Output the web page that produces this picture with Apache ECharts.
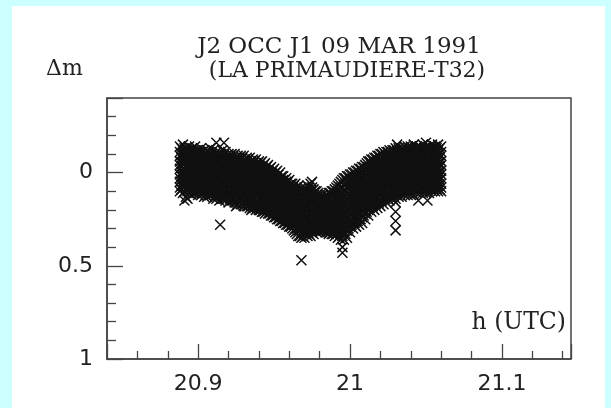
<!DOCTYPE html>
<html>
<head>
<meta charset="utf-8">
<script src="https://cdn.jsdelivr.net/npm/echarts@6/dist/echarts.min.js"></script>
<style>
html,body{margin:0;padding:0;background:#ccffff;}
#c{width:611px;height:408px;}
</style>
</head>
<body>
<div id="c"></div>
<script>
// time (h UTC) of each column of measurements (even thousandths)
const hours = [20.888,20.890,20.892,20.894,20.896,20.898,20.900,20.902,20.904,20.906,20.908,20.910,20.912,20.914,20.916,20.918,20.920,20.922,20.924,20.926,20.928,20.930,20.932,20.934,20.936,20.938,20.940,20.942,20.944,20.946,20.948,20.950,20.952,20.954,20.956,20.958,20.960,20.962,20.964,20.966,20.968,20.970,20.972,20.974,20.976,20.978,20.980,20.982,20.984,20.986,20.988,20.990,20.992,20.994,20.996,20.998,21.000,21.002,21.004,21.006,21.008,21.010,21.012,21.014,21.016,21.018,21.020,21.022,21.024,21.026,21.028,21.030,21.032,21.034,21.036,21.038,21.040,21.042,21.044,21.046,21.048,21.050,21.052,21.054,21.056,21.058,21.060];
const dm = [
[-0.14,-0.11,-0.09,-0.06,-0.04,-0.02,0.01,0.03,0.05,0.08,0.10],
[-0.15,-0.12,-0.10,-0.07,-0.05,-0.02,0.00,0.02,0.05,0.07,0.11],
[-0.13,-0.11,-0.08,-0.06,-0.03,-0.01,0.02,0.04,0.06,0.09,0.13],
[-0.14,-0.12,-0.09,-0.07,-0.04,-0.02,0.01,0.03,0.06,0.08,0.11],
[-0.13,-0.10,-0.08,-0.05,-0.03,0.00,0.02,0.04,0.07,0.09,0.12],
[-0.14,-0.11,-0.09,-0.06,-0.04,-0.01,0.01,0.04,0.06,0.08,0.11],
[-0.12,-0.10,-0.07,-0.05,-0.02,0.00,0.03,0.05,0.07,0.10,0.12],
[-0.13,-0.11,-0.08,-0.06,-0.03,-0.01,0.02,0.04,0.07,0.09,0.12],
[-0.12,-0.09,-0.07,-0.04,-0.02,0.01,0.03,0.06,0.08,0.10,0.13],
[-0.12,-0.10,-0.07,-0.05,-0.02,0.00,0.03,0.05,0.08,0.10,0.13],
[-0.13,-0.10,-0.08,-0.05,-0.03,0.00,0.02,0.05,0.07,0.10,0.12],
[-0.12,-0.09,-0.06,-0.04,-0.01,0.01,0.04,0.06,0.09,0.11,0.14],
[-0.11,-0.09,-0.06,-0.04,-0.01,0.02,0.04,0.07,0.09,0.12,0.14],
[-0.11,-0.08,-0.06,-0.03,-0.01,0.02,0.05,0.07,0.10,0.12,0.15],
[-0.12,-0.09,-0.07,-0.04,-0.01,0.01,0.04,0.06,0.09,0.11,0.14],
[-0.11,-0.08,-0.05,-0.03,0.00,0.03,0.05,0.08,0.10,0.13,0.15],
[-0.10,-0.08,-0.05,-0.02,0.00,0.03,0.06,0.08,0.11,0.13,0.16],
[-0.10,-0.07,-0.04,-0.02,0.01,0.04,0.06,0.09,0.11,0.14,0.15],
[-0.10,-0.07,-0.05,-0.02,0.01,0.03,0.06,0.09,0.11,0.14,0.16],
[-0.09,-0.06,-0.04,-0.01,0.02,0.04,0.07,0.10,0.12,0.15,0.17],
[-0.09,-0.07,-0.04,-0.01,0.02,0.05,0.07,0.10,0.13,0.15,0.17],
[-0.09,-0.06,-0.03,0.00,0.02,0.05,0.08,0.11,0.13,0.16,0.18],
[-0.08,-0.05,-0.03,0.00,0.03,0.06,0.09,0.11,0.14,0.16,0.18],
[-0.08,-0.05,-0.02,0.01,0.04,0.06,0.09,0.12,0.14,0.17,0.19],
[-0.07,-0.04,-0.01,0.02,0.04,0.07,0.10,0.13,0.15,0.17,0.19],
[-0.07,-0.04,-0.01,0.01,0.04,0.07,0.10,0.13,0.16,0.18,0.20],
[-0.06,-0.03,0.00,0.03,0.06,0.08,0.11,0.14,0.16,0.18,0.20],
[-0.06,-0.03,0.00,0.03,0.06,0.09,0.12,0.15,0.17,0.19,0.21],
[-0.05,-0.02,0.01,0.04,0.07,0.10,0.13,0.15,0.18,0.20,0.22],
[-0.04,-0.01,0.02,0.05,0.08,0.11,0.13,0.16,0.18,0.20,0.22],
[-0.03,0.00,0.03,0.06,0.09,0.11,0.14,0.17,0.19,0.21,0.23],
[-0.02,0.01,0.04,0.07,0.10,0.12,0.15,0.18,0.20,0.22,0.24],
[-0.01,0.02,0.05,0.08,0.10,0.13,0.16,0.18,0.21,0.23,0.25],
[0.00,0.03,0.06,0.09,0.11,0.14,0.17,0.19,0.22,0.24,0.26],
[0.02,0.04,0.07,0.10,0.12,0.15,0.17,0.20,0.23,0.25,0.27],
[0.03,0.05,0.08,0.11,0.13,0.16,0.18,0.21,0.24,0.26,0.28],
[0.04,0.07,0.09,0.12,0.14,0.17,0.19,0.22,0.25,0.27,0.29],
[0.06,0.08,0.10,0.13,0.15,0.18,0.20,0.23,0.25,0.28,0.30],
[0.06,0.09,0.11,0.14,0.17,0.19,0.22,0.25,0.27,0.30,0.32],
[0.07,0.10,0.12,0.15,0.18,0.21,0.23,0.26,0.29,0.31,0.34],
[0.08,0.11,0.13,0.16,0.19,0.22,0.24,0.27,0.30,0.32,0.35],
[0.08,0.11,0.14,0.17,0.19,0.22,0.25,0.28,0.30,0.33,0.35],
[0.07,0.10,0.13,0.16,0.18,0.21,0.24,0.27,0.29,0.32,0.34],
[0.06,0.10,0.12,0.15,0.18,0.21,0.23,0.26,0.29,0.31,0.34],
[0.09,0.11,0.14,0.16,0.19,0.21,0.24,0.26,0.29,0.31,0.33],
[0.10,0.12,0.14,0.17,0.19,0.22,0.24,0.26,0.28,0.30,0.32],
[0.12,0.14,0.16,0.18,0.20,0.22,0.24,0.26,0.28,0.30,0.32],
[0.12,0.14,0.16,0.18,0.20,0.22,0.24,0.26,0.27,0.29,0.31],
[0.12,0.14,0.16,0.18,0.20,0.22,0.24,0.26,0.28,0.30,0.32],
[0.11,0.13,0.15,0.18,0.20,0.22,0.24,0.27,0.29,0.31,0.33],
[0.10,0.12,0.15,0.17,0.19,0.22,0.24,0.26,0.29,0.31,0.33],
[0.09,0.11,0.14,0.16,0.19,0.21,0.24,0.26,0.29,0.31,0.34],
[0.07,0.10,0.13,0.15,0.18,0.21,0.23,0.26,0.29,0.32,0.35],
[0.05,0.08,0.11,0.14,0.17,0.20,0.23,0.26,0.29,0.32,0.36],
[0.03,0.07,0.10,0.13,0.16,0.19,0.22,0.26,0.29,0.32,0.36],
[0.02,0.05,0.08,0.12,0.15,0.18,0.21,0.25,0.28,0.31,0.35],
[0.01,0.04,0.07,0.10,0.13,0.16,0.19,0.23,0.26,0.29,0.32],
[0.00,0.03,0.06,0.09,0.12,0.15,0.18,0.21,0.24,0.27,0.30],
[-0.01,0.02,0.05,0.08,0.11,0.14,0.17,0.20,0.23,0.26,0.29],
[-0.02,0.01,0.04,0.07,0.10,0.13,0.16,0.19,0.22,0.25,0.28],
[-0.03,0.00,0.03,0.06,0.09,0.12,0.15,0.18,0.21,0.24,0.27],
[-0.04,-0.01,0.02,0.05,0.08,0.11,0.13,0.16,0.19,0.22,0.25],
[-0.06,-0.03,0.00,0.03,0.06,0.09,0.12,0.14,0.17,0.20,0.23],
[-0.07,-0.04,-0.01,0.02,0.05,0.07,0.10,0.13,0.16,0.18,0.21],
[-0.08,-0.05,-0.02,0.01,0.03,0.06,0.09,0.12,0.14,0.17,0.20],
[-0.09,-0.06,-0.03,0.00,0.02,0.05,0.08,0.11,0.13,0.16,0.19],
[-0.10,-0.07,-0.04,-0.01,0.01,0.04,0.07,0.10,0.12,0.15,0.18],
[-0.11,-0.08,-0.05,-0.02,0.00,0.03,0.06,0.09,0.11,0.14,0.17],
[-0.11,-0.08,-0.05,-0.03,0.00,0.03,0.05,0.08,0.11,0.13,0.16],
[-0.12,-0.09,-0.06,-0.04,-0.01,0.02,0.04,0.07,0.10,0.12,0.15],
[-0.12,-0.09,-0.07,-0.04,-0.02,0.01,0.04,0.06,0.09,0.11,0.14],
[-0.13,-0.10,-0.07,-0.05,-0.02,0.01,0.03,0.06,0.08,0.11,0.14],
[-0.13,-0.10,-0.08,-0.05,-0.03,0.00,0.02,0.05,0.08,0.10,0.13],
[-0.13,-0.11,-0.08,-0.05,-0.03,0.00,0.02,0.05,0.07,0.10,0.13],
[-0.14,-0.11,-0.09,-0.06,-0.04,-0.01,0.02,0.04,0.07,0.09,0.12],
[-0.14,-0.11,-0.09,-0.06,-0.03,-0.01,0.02,0.04,0.07,0.09,0.12],
[-0.14,-0.12,-0.09,-0.07,-0.04,-0.01,0.01,0.04,0.06,0.09,0.12],
[-0.15,-0.12,-0.09,-0.06,-0.04,-0.01,0.01,0.04,0.07,0.09,0.12],
[-0.14,-0.11,-0.09,-0.06,-0.04,-0.01,0.01,0.04,0.06,0.09,0.11],
[-0.14,-0.12,-0.09,-0.07,-0.04,-0.02,0.01,0.03,0.06,0.08,0.11],
[-0.15,-0.12,-0.10,-0.07,-0.04,-0.02,0.01,0.03,0.06,0.08,0.11],
[-0.14,-0.11,-0.09,-0.06,-0.04,-0.01,0.01,0.04,0.06,0.09,0.11],
[-0.14,-0.12,-0.09,-0.07,-0.04,-0.02,0.01,0.03,0.06,0.08,0.11],
[-0.15,-0.12,-0.10,-0.07,-0.05,-0.02,0.00,0.03,0.05,0.08,0.10],
[-0.14,-0.11,-0.09,-0.06,-0.04,-0.01,0.01,0.04,0.06,0.08,0.10],
[-0.15,-0.12,-0.10,-0.07,-0.05,-0.02,0.00,0.03,0.05,0.07,0.10],
[-0.14,-0.11,-0.09,-0.06,-0.04,-0.01,0.01,0.03,0.06,0.08,0.10]
];
// time (h UTC) of the interleaved columns (odd thousandths)
const hoursB = [20.889,20.891,20.893,20.895,20.897,20.899,20.901,20.903,20.905,20.907,20.909,20.911,20.913,20.915,20.917,20.919,20.921,20.923,20.925,20.927,20.929,20.931,20.933,20.935,20.937,20.939,20.941,20.943,20.945,20.947,20.949,20.951,20.953,20.955,20.957,20.959,20.961,20.963,20.965,20.967,20.969,20.971,20.973,20.975,20.977,20.979,20.981,20.983,20.985,20.987,20.989,20.991,20.993,20.995,20.997,20.999,21.001,21.003,21.005,21.007,21.009,21.011,21.013,21.015,21.017,21.019,21.021,21.023,21.025,21.027,21.029,21.031,21.033,21.035,21.037,21.039,21.041,21.043,21.045,21.047,21.049,21.051,21.053,21.055,21.057,21.059];
const dmB = [
[-0.13,-0.10,-0.08,-0.05,-0.03,0.00,0.02,0.04,0.07,0.09],
[-0.13,-0.10,-0.07,-0.05,-0.02,0.00,0.03,0.05,0.07,0.10],
[-0.12,-0.10,-0.07,-0.04,-0.02,0.01,0.03,0.05,0.08,0.10],
[-0.12,-0.09,-0.07,-0.04,-0.02,0.01,0.03,0.06,0.08,0.10],
[-0.12,-0.09,-0.06,-0.04,-0.01,0.01,0.04,0.06,0.09,0.11],
[-0.12,-0.09,-0.07,-0.04,-0.01,0.02,0.04,0.06,0.09,0.11],
[-0.11,-0.09,-0.06,-0.03,-0.01,0.02,0.04,0.07,0.09,0.11],
[-0.11,-0.08,-0.06,-0.03,0.00,0.02,0.05,0.07,0.09,0.11],
[-0.11,-0.08,-0.05,-0.03,0.00,0.02,0.05,0.07,0.10,0.12],
[-0.11,-0.08,-0.06,-0.03,-0.01,0.02,0.04,0.07,0.09,0.12],
[-0.10,-0.08,-0.05,-0.02,0.00,0.03,0.05,0.08,0.10,0.12],
[-0.10,-0.07,-0.05,-0.02,0.01,0.03,0.06,0.08,0.11,0.13],
[-0.10,-0.07,-0.04,-0.02,0.01,0.04,0.06,0.09,0.11,0.13],
[-0.10,-0.07,-0.05,-0.02,0.01,0.03,0.06,0.08,0.11,0.13],
[-0.09,-0.07,-0.04,-0.01,0.01,0.04,0.07,0.09,0.12,0.14],
[-0.09,-0.06,-0.04,-0.01,0.02,0.04,0.07,0.09,0.12,0.14],
[-0.09,-0.06,-0.03,-0.01,0.02,0.05,0.07,0.10,0.12,0.14],
[-0.08,-0.06,-0.03,0.00,0.02,0.05,0.08,0.10,0.13,0.15],
[-0.08,-0.05,-0.03,0.00,0.03,0.05,0.08,0.11,0.13,0.16],
[-0.08,-0.05,-0.02,0.01,0.03,0.06,0.09,0.11,0.14,0.16],
[-0.08,-0.05,-0.02,0.01,0.04,0.06,0.09,0.12,0.14,0.17],
[-0.07,-0.04,-0.01,0.01,0.04,0.07,0.10,0.12,0.15,0.17],
[-0.07,-0.04,-0.01,0.02,0.05,0.08,0.10,0.13,0.15,0.18],
[-0.06,-0.03,0.00,0.03,0.05,0.08,0.11,0.14,0.16,0.18],
[-0.06,-0.03,0.00,0.03,0.06,0.09,0.12,0.14,0.17,0.19],
[-0.05,-0.02,0.01,0.04,0.07,0.10,0.12,0.15,0.17,0.19],
[-0.05,-0.02,0.02,0.05,0.07,0.10,0.13,0.15,0.18,0.20],
[-0.04,-0.01,0.02,0.05,0.08,0.11,0.14,0.16,0.19,0.21],
[-0.03,0.00,0.03,0.06,0.09,0.12,0.14,0.17,0.19,0.21],
[-0.02,0.01,0.04,0.07,0.10,0.13,0.15,0.18,0.20,0.22],
[-0.01,0.02,0.05,0.08,0.11,0.14,0.16,0.19,0.21,0.23],
[0.00,0.03,0.06,0.09,0.11,0.14,0.17,0.19,0.22,0.24],
[0.01,0.04,0.07,0.10,0.12,0.15,0.18,0.20,0.23,0.25],
[0.02,0.05,0.08,0.11,0.13,0.16,0.18,0.21,0.24,0.26],
[0.04,0.06,0.09,0.12,0.14,0.17,0.19,0.22,0.25,0.27],
[0.05,0.08,0.10,0.13,0.15,0.18,0.20,0.23,0.26,0.28],
[0.06,0.09,0.11,0.14,0.16,0.19,0.21,0.24,0.26,0.29],
[0.07,0.10,0.12,0.15,0.17,0.20,0.23,0.26,0.28,0.31],
[0.08,0.11,0.13,0.16,0.19,0.22,0.24,0.27,0.30,0.33],
[0.09,0.12,0.15,0.17,0.20,0.23,0.26,0.28,0.31,0.34],
[0.09,0.12,0.15,0.18,0.21,0.23,0.26,0.29,0.32,0.34],
[0.09,0.12,0.14,0.17,0.20,0.23,0.25,0.28,0.31,0.33],
[0.08,0.11,0.14,0.17,0.19,0.22,0.25,0.27,0.30,0.33],
[0.08,0.12,0.15,0.17,0.20,0.22,0.25,0.27,0.30,0.32],
[0.10,0.13,0.15,0.18,0.20,0.23,0.25,0.27,0.29,0.31],
[0.11,0.13,0.15,0.17,0.19,0.21,0.23,0.25,0.27,0.29,0.31],
[0.13,0.15,0.17,0.19,0.21,0.23,0.25,0.27,0.29,0.31],
[0.13,0.15,0.17,0.19,0.21,0.23,0.25,0.27,0.29,0.31],
[0.12,0.14,0.17,0.19,0.21,0.23,0.25,0.28,0.30,0.32],
[0.11,0.14,0.16,0.18,0.21,0.23,0.25,0.28,0.30,0.32],
[0.10,0.13,0.15,0.18,0.20,0.23,0.25,0.28,0.30,0.33],
[0.08,0.11,0.14,0.17,0.19,0.22,0.25,0.27,0.30,0.33],
[0.06,0.09,0.12,0.15,0.18,0.21,0.24,0.27,0.31,0.34],
[0.04,0.08,0.11,0.14,0.17,0.20,0.24,0.27,0.30,0.34],
[0.03,0.06,0.10,0.13,0.16,0.20,0.23,0.26,0.30,0.33],
[0.02,0.05,0.08,0.11,0.14,0.17,0.20,0.24,0.27,0.30],
[0.01,0.04,0.07,0.10,0.13,0.16,0.19,0.22,0.25,0.28],
[0.00,0.03,0.06,0.09,0.12,0.15,0.18,0.21,0.24,0.27],
[-0.01,0.02,0.05,0.08,0.11,0.14,0.17,0.20,0.23,0.26],
[-0.02,0.01,0.04,0.07,0.10,0.13,0.16,0.19,0.22,0.25],
[-0.03,0.00,0.03,0.06,0.09,0.12,0.14,0.17,0.20,0.23],
[-0.05,-0.02,0.01,0.04,0.07,0.10,0.13,0.15,0.18,0.21],
[-0.06,-0.03,0.00,0.03,0.06,0.08,0.11,0.14,0.17,0.19],
[-0.07,-0.04,-0.01,0.02,0.04,0.07,0.10,0.13,0.15,0.18],
[-0.08,-0.05,-0.02,0.01,0.03,0.06,0.09,0.12,0.14,0.17],
[-0.09,-0.06,-0.03,0.00,0.02,0.05,0.08,0.11,0.13,0.16],
[-0.10,-0.07,-0.04,-0.01,0.01,0.04,0.07,0.10,0.12,0.15],
[-0.10,-0.07,-0.04,-0.02,0.01,0.04,0.06,0.09,0.12,0.14],
[-0.11,-0.08,-0.05,-0.03,0.00,0.03,0.05,0.08,0.11,0.13],
[-0.11,-0.08,-0.06,-0.03,-0.01,0.02,0.05,0.07,0.10,0.12],
[-0.12,-0.09,-0.06,-0.04,-0.01,0.02,0.04,0.07,0.09,0.12],
[-0.12,-0.09,-0.07,-0.04,-0.02,0.01,0.03,0.06,0.09,0.11],
[-0.12,-0.10,-0.07,-0.04,-0.02,0.01,0.03,0.06,0.08,0.11],
[-0.13,-0.10,-0.07,-0.05,-0.02,0.01,0.03,0.05,0.08,0.10],
[-0.13,-0.10,-0.08,-0.05,-0.02,0.00,0.03,0.05,0.08,0.10],
[-0.13,-0.11,-0.08,-0.05,-0.03,0.00,0.02,0.05,0.07,0.10],
[-0.13,-0.10,-0.08,-0.05,-0.03,0.00,0.03,0.05,0.08,0.10],
[-0.13,-0.10,-0.07,-0.05,-0.02,0.00,0.03,0.05,0.08,0.10],
[-0.13,-0.10,-0.08,-0.05,-0.03,0.00,0.02,0.05,0.07,0.09],
[-0.13,-0.11,-0.08,-0.06,-0.03,0.00,0.02,0.04,0.07,0.09],
[-0.13,-0.10,-0.08,-0.05,-0.03,0.00,0.02,0.05,0.07,0.10],
[-0.13,-0.10,-0.08,-0.05,-0.03,0.00,0.02,0.04,0.07,0.09],
[-0.13,-0.11,-0.08,-0.06,-0.03,-0.01,0.02,0.04,0.07,0.09],
[-0.13,-0.10,-0.08,-0.05,-0.03,0.00,0.02,0.05,0.07,0.09],
[-0.13,-0.11,-0.08,-0.06,-0.03,-0.01,0.02,0.04,0.06,0.09],
[-0.13,-0.10,-0.08,-0.05,-0.03,0.00,0.02,0.04,0.07,0.09]
];
// isolated points outside the main band
const outlierHours = [20.891,20.893,20.9145,20.912,20.917,20.925,20.935,20.968,20.975,20.995,20.995,21.030,21.030,21.030,21.030,21.045,21.051,21.031,21.050];
const outlierDm    = [0.15,0.14,0.28,-0.16,-0.16,0.18,0.20,0.47,0.05,0.40,0.43,0.16,0.21,0.26,0.31,0.15,0.15,-0.15,-0.16];
const xTickLabels = ['20.9','21','21.1'];
const yTickLabels = ['0','0.5','1'];

const points = [];
hours.forEach((h, i) => (dm[i] || []).forEach(v => points.push([h, v])));
hoursB.forEach((h, i) => (dmB[i] || []).forEach(v => points.push([h, v])));
outlierHours.forEach((h, i) => points.push([h, outlierDm[i]]));

const ink = '#222';
const labelFont = 'DejaVu Sans';

function pick(list, v) {
  for (const s of list) { if (Math.abs(parseFloat(s) - v) < 1e-6) return s; }
  return '';
}

const chart = echarts.init(document.getElementById('c'), null, {renderer: 'canvas'});
chart.setOption({
  animation: false,
  backgroundColor: '#ccffff',
  graphic: [
    {type: 'rect', z: -10, shape: {x: 12, y: 6, width: 593, height: 402}, style: {fill: '#ffffff'}, silent: true},
    {type: 'text', x: 339, y: 47, style: {text: 'J2 OCC J1 09 MAR 1991', font: '23px "DejaVu Serif"', fill: ink, align: 'center', verticalAlign: 'middle'}},
    {type: 'text', x: 347, y: 71, style: {text: '(LA PRIMAUDIERE-T32)', font: '22px "DejaVu Serif"', fill: ink, align: 'center', verticalAlign: 'middle'}},
    {type: 'text', x: 46, y: 69, style: {text: 'Δm', font: '22px "DejaVu Serif"', fill: ink, align: 'left', verticalAlign: 'middle'}},
    {type: 'text', x: 566, y: 323, style: {text: 'h (UTC)', font: '23.5px "DejaVu Serif"', fill: ink, align: 'right', verticalAlign: 'middle'}}
  ],
  grid: {left: 107, top: 98, right: 40, bottom: 49, show: true, borderColor: '#444', borderWidth: 1.5, backgroundColor: 'transparent'},
  xAxis: {
    type: 'value', min: 20.84, max: 21.1455, minInterval: 0.1, maxInterval: 0.1,
    axisLine: {show: true, onZero: false, lineStyle: {color: '#444', width: 1.5}},
    axisTick: {show: true, inside: true, length: 15, lineStyle: {color: '#444', width: 1.3}},
    minorTick: {show: true, splitNumber: 5, length: 8, lineStyle: {color: '#444', width: 1.3}},
    splitLine: {show: false}, minorSplitLine: {show: false},
    axisLabel: {margin: 14, showMinLabel: false, showMaxLabel: false, fontFamily: labelFont, fontSize: 22, color: ink,
      formatter: v => pick(xTickLabels, v)}
  },
  yAxis: {
    type: 'value', inverse: true, min: -0.4, max: 1, minInterval: 0.5, maxInterval: 0.5,
    axisLine: {show: true, onZero: false, lineStyle: {color: '#444', width: 1.5}},
    axisTick: {show: true, inside: true, length: 16, lineStyle: {color: '#444', width: 1.3}},
    minorTick: {show: true, splitNumber: 5, length: 9, lineStyle: {color: '#444', width: 1.3}},
    splitLine: {show: false}, minorSplitLine: {show: false},
    axisLabel: {margin: 14, showMinLabel: false, fontFamily: labelFont, fontSize: 22, color: ink,
      formatter: v => pick(yTickLabels, v)}
  },
  series: [{
    type: 'scatter', data: points, silent: true,
    symbol: 'path://M0,0L10,10M10,0L0,10', symbolSize: 10,
    itemStyle: {color: 'rgba(0,0,0,0)', borderColor: '#111', borderWidth: 1.5, opacity: 1}
  }]
});
</script>
</body>
</html>
